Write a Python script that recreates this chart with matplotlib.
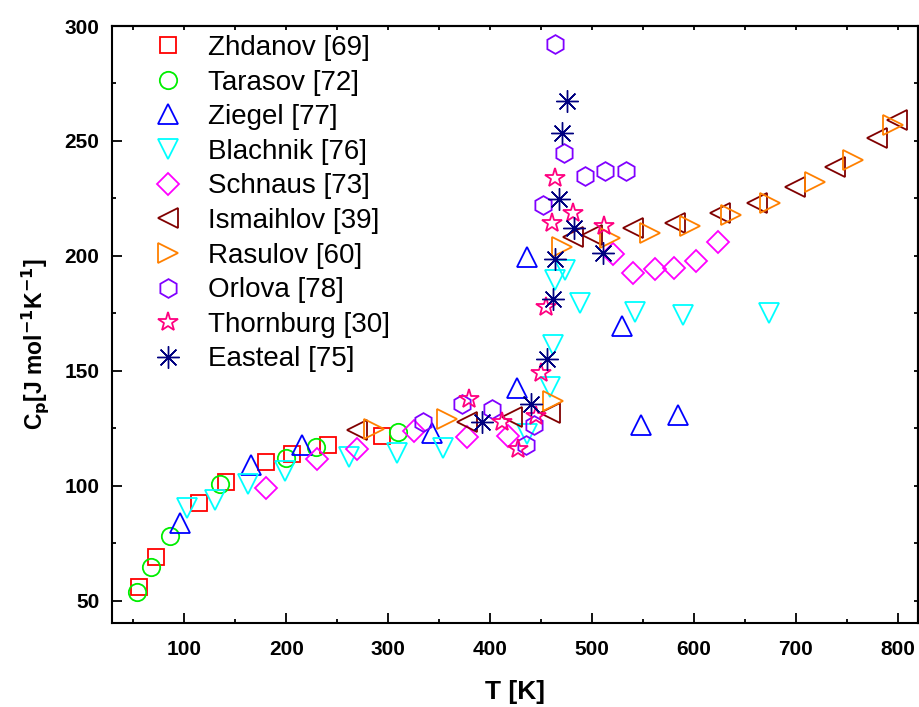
import matplotlib
matplotlib.use("Agg")
import matplotlib.pyplot as plt

# ..............................................................................
plt.rcParams['font.family'] = ['Liberation Sans', 'DejaVu Sans']

# ==============================================================================
# data: T [K], Cp [J mol-1 K-1]
zhdanovT = [55.6, 72.3, 114.4, 140.9, 180.2, 205.7, 241.0, 294.0]
zhdanovCp = [56.1, 69.1, 92.6, 101.7, 110.4, 113.9, 117.8, 121.7]

tarasovT = [53.3, 67.0, 86.0, 135.0, 199.5, 229.2, 309.7]
tarasovCp = [54.0, 64.7, 78.4, 100.7, 112.3, 117.1, 123.6]

ziegelT = [95.8, 165.5, 215.2, 343.0, 426.2, 436.3, 529.5, 547.9, 584.8]
ziegelCp = [83.9, 109.1, 117.8, 123.0, 142.5, 199.6, 169.6, 126.5, 130.9]

blachnikT = [102.4, 130.1, 162.2, 198.8, 261.9, 308.4, 354.2, 436.3, 458.9,
             462.1, 463.8, 473.6, 488.3, 542.3, 589.1, 674.1]
blachnikCp = [90.3, 93.9, 100.7, 106.7, 112.5, 114.3, 116.4, 122.6, 143.2,
              161.3, 189.6, 193.9, 179.4, 175.7, 174.3, 175.3]

schnausT = [179.9, 229.9, 269.2, 325.4, 377.4, 418.0, 521.0, 540.6, 561.9,
            580.6, 601.9, 624.0]
schnausCp = [99.0, 111.7, 115.9, 124.1, 121.3, 121.5, 200.9, 192.5, 194.2,
             194.7, 198.0, 206.2]

ismaihlovT = [269.2, 377.4, 421.3, 458.9, 481.7, 500.0, 540.6, 581.5, 625.7,
              661.7, 699.3, 738.5, 779.5, 799.1]
ismaihlovCp = [124.3, 127.8, 130.1, 131.6, 208.3, 209.3, 212.0, 214.2, 218.6,
               222.9, 230.2, 238.8, 251.2, 259.1]

rasulovT = [286.2, 357.5, 462.1, 470.4, 517.7, 557.0, 596.3, 636.2, 674.7,
            718.9, 756.5, 795.8]
rasulovCp = [124.8, 129.1, 137.0, 203.9, 207.7, 209.9, 213.0, 217.8, 222.9,
             232.3, 241.7, 257.0]

orlovaT = [334.5, 372.2, 402.0, 435.0, 443.2, 452.3, 463.8, 472.6, 493.2,
           512.9, 533.4]
orlovaCp = [127.8, 135.5, 133.3, 117.8, 126.3, 222.2, 292.2, 244.9, 234.8,
            237.1, 237.1]

thornburgT = [379.4, 411.5, 427.8, 445.1, 449.8, 455.0, 460.6, 463.9, 481.2,
              512.1]
thornburgCp = [137.6, 128.0, 116.1, 130.2, 149.0, 177.8, 214.3, 233.9, 218.7,
               213.0]

eastealT = [392.0, 440.3, 455.5, 461.4, 464.1, 467.8, 470.6, 475.5, 482.8,
            510.9]
eastealCp = [128.0, 135.8, 155.2, 181.4, 198.7, 224.7, 253.6, 267.3, 212.0,
             201.5]

labelL = ["Zhdanov [69]", "Tarasov [72]", "Ziegel [77]", "Blachnik [76]",
          "Schnaus [73]", "Ismaihlov [39]", "Rasulov [60]", "Orlova [78]",
          "Thornburg [30]", "Easteal [75]"]

# ------------------------------------------------------------------------------
dataL = [(zhdanovT, zhdanovCp), (tarasovT, tarasovCp), (ziegelT, ziegelCp),
         (blachnikT, blachnikCp), (schnausT, schnausCp),
         (ismaihlovT, ismaihlovCp), (rasulovT, rasulovCp),
         (orlovaT, orlovaCp), (thornburgT, thornburgCp),
         (eastealT, eastealCp)]

markerL = ["s", "o", "^", "v", "D", "<", ">", "h", "*", (8, 2, 0)]
sizeL = [12, 12.5, 15, 15, 11, 15, 15, 13.5, 15, 16]
mewL = [1.3, 1.3, 1.3, 1.3, 1.3, 1.3, 1.3, 1.3, 1.3, 1.0]
colorL = ["#FF0000", "#00EE00", "#0000FF", "#00FFFF", "#FF00FF", "#800000",
          "#FF8000", "#8000FF", "#FF0080", "#000080"]

# ==============================================================================
fig = plt.figure(figsize=(9.2, 7.07), dpi=100)
ax = fig.add_axes([112/920, 1-623/707, 806/920, 597/707])

for i, (T, Cp) in enumerate(dataL):
    ax.plot(T, Cp, linestyle="none", marker=markerL[i], markersize=sizeL[i],
            markerfacecolor="none", markeredgecolor=colorL[i],
            markeredgewidth=mewL[i], label=labelL[i])

ax.set_xlim(29, 820)
ax.set_ylim(40.4, 300)
ax.set_xticks(range(100, 801, 100))
ax.set_xticks(range(50, 801, 50), minor=True)
ax.set_yticks(range(50, 301, 50))
ax.set_yticks(range(50, 301, 25), minor=True)

for s in ax.spines.values():
    s.set_linewidth(1.5)
ax.tick_params(which="both", direction="in", width=1.3, labelsize=15)
ax.tick_params(axis="x", pad=12)
ax.tick_params(axis="y", pad=9)
ax.tick_params(which="major", length=7.5)
ax.tick_params(which="minor", length=3)
for lab in ax.get_xticklabels() + ax.get_yticklabels():
    lab.set_fontweight("bold")

# top and right ticks: short, no labels
axTop = ax.secondary_xaxis("top")
axTop.set_xticks(range(50, 801, 50))
axTop.tick_params(direction="in", length=3, width=1.3, labeltop=False)
axRight = ax.secondary_yaxis("right")
axRight.set_yticks(range(50, 301, 25))
axRight.tick_params(direction="in", length=3, width=1.3, labelright=False)
for s in list(axTop.spines.values()) + list(axRight.spines.values()):
    s.set_linewidth(1.5)

ax.set_xlabel("T [K]", fontsize=19, fontweight="bold", labelpad=15)
ax.set_ylabel(r"C$_\mathbf{p}$[J mol$^\mathbf{-1}$K$^\mathbf{-1}$]",
              fontsize=16.5, fontweight="bold")
ax.yaxis.set_label_coords(-0.076, 0.468)

ax.legend(loc="upper left", bbox_to_anchor=(0.047, 0.985), frameon=False,
          fontsize=20, borderaxespad=0, borderpad=0, handlelength=1.3,
          handletextpad=0.8, labelspacing=0.31)

plt.savefig("out.png", dpi=100)
plt.close()
